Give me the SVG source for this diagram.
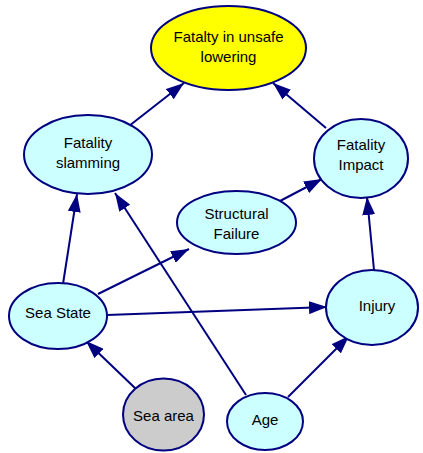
<svg xmlns="http://www.w3.org/2000/svg" width="423" height="453" viewBox="0 0 423 453">
<style>
.n{stroke:#000080;stroke-width:2}
.c{fill:#ccffff}
.e{stroke:#000080;stroke-width:2;fill:none;marker-end:url(#a)}
text{font-family:"Liberation Sans",Arial,sans-serif;font-size:15px;fill:#000;text-anchor:middle}
</style>
<defs>
<marker id="a" markerUnits="userSpaceOnUse" markerWidth="19" markerHeight="13" refX="18" refY="6.5" orient="auto">
<path d="M0,0 L18,6.5 L0,13 z" fill="#000080"/>
</marker>
</defs>
<rect width="423" height="453" fill="#fff"/>
<g id="edges">
<line class="e" x1="129" y1="126" x2="184" y2="83"/>
<line class="e" x1="326" y1="128" x2="273" y2="83"/>
<line class="e" x1="280" y1="201" x2="322" y2="179"/>
<line class="e" x1="374" y1="270" x2="367" y2="197"/>
<line class="e" x1="63" y1="284" x2="77" y2="194"/>
<line class="e" x1="246" y1="395" x2="115" y2="193"/>
<line class="e" x1="98" y1="294" x2="189" y2="249"/>
<line class="e" x1="107" y1="315" x2="327" y2="307"/>
<line class="e" x1="136" y1="389" x2="86" y2="341"/>
<line class="e" x1="288" y1="397" x2="349" y2="336"/>
</g>
<g id="fatalty">
<ellipse class="n" cx="228.5" cy="48" rx="77.5" ry="42" fill="#ffff00"/>
<text x="228.5" y="42">Fatalty in unsafe</text>
<text x="228.5" y="62">lowering</text>
</g>
<g id="fatality_slamming">
<ellipse class="n c" cx="88" cy="154.5" rx="64" ry="39.5"/>
<text x="88" y="148">Fatality</text>
<text x="88" y="168">slamming</text>
</g>
<g id="fatality_impact">
<ellipse class="n c" cx="361" cy="158.5" rx="47" ry="39.5"/>
<text x="361" y="150">Fatality</text>
<text x="361" y="170">Impact</text>
</g>
<g id="structural_failure">
<ellipse class="n c" cx="236.5" cy="222.5" rx="59.5" ry="31.5"/>
<text x="236.5" y="219">Structural</text>
<text x="236.5" y="239">Failure</text>
</g>
<g id="sea_state">
<ellipse class="n c" cx="58" cy="316" rx="49" ry="33"/>
<text x="58" y="318">Sea State</text>
</g>
<g id="injury">
<ellipse class="n c" cx="372" cy="307.5" rx="46" ry="37.5"/>
<text x="377" y="311">Injury</text>
</g>
<g id="sea_area">
<ellipse class="n" cx="163.5" cy="414.5" rx="40.5" ry="36" fill="#cccccc"/>
<text x="163.5" y="421">Sea area</text>
</g>
<g id="age">
<ellipse class="n c" cx="265" cy="421.5" rx="38" ry="28.5"/>
<text x="265" y="425">Age</text>
</g>
</svg>
